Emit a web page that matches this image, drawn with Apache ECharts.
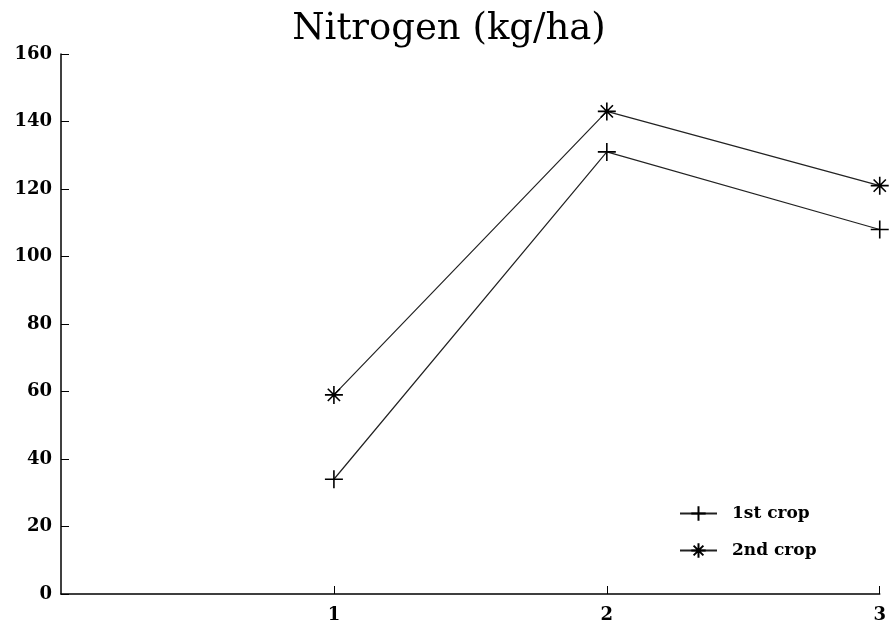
<!DOCTYPE html>
<html>
<head>
<meta charset="utf-8">
<script src="https://cdn.jsdelivr.net/npm/echarts@6/dist/echarts.min.js"></script>
<style>
  html, body { margin: 0; padding: 0; background: #fff; }
  #chart { width: 889px; height: 625px; }
</style>
</head>
<body>
<div id="chart"></div>
<script>
// data
const xValues = [1, 2, 3]
const firstCrop = [34, 131, 108]
const secondCrop = [59, 143, 121]
const seriesNames = ['1st crop', '2nd crop']

const plusPath = 'path://M5,0 L5,10 M0,5 L10,5'
const starPath = 'path://M5,0 L5,10 M0,5 L10,5 M1.6,1.6 L8.4,8.4 M8.4,1.6 L1.6,8.4'

const toPairs = (ys) => ys.map((y, i) => [xValues[i], y])
const labelFont = { fontFamily: 'DejaVu Serif', fontWeight: 'bold', fontSize: 18, color: '#000' }

const chart = echarts.init(document.getElementById('chart'))
chart.setOption({
  animation: false,
  title: {
    text: 'Nitrogen (kg/ha)',
    left: 444,
    textAlign: 'center',
    top: 6,
    textStyle: { fontFamily: 'DejaVu Serif', fontWeight: 'normal', fontSize: 37, color: '#000' }
  },
  grid: { left: 61, right: 8, top: 54, bottom: 31 },
  legend: {
    orient: 'vertical',
    left: 674,
    top: 500,
    itemWidth: 37,
    itemHeight: 18,
    itemGap: 20,
    data: seriesNames,
    textStyle: { fontFamily: 'DejaVu Serif', fontWeight: 'bold', fontSize: 17, color: '#000', padding: [0, 0, 0, 10] }
  },
  xAxis: {
    type: 'value',
    min: 0,
    max: 3,
    interval: 1,
    splitLine: { show: false },
    axisLine: { lineStyle: { color: '#000', width: 1.5 } },
    axisTick: { inside: true, length: 8, lineStyle: { color: '#000' } },
    axisLabel: Object.assign({}, labelFont, {
      margin: 12,
      showMinLabel: false,
      formatter: (v) => (v === 0 ? '' : String(v))
    })
  },
  yAxis: {
    type: 'value',
    min: 0,
    max: 160,
    interval: 20,
    splitLine: { show: false },
    axisLine: { show: true, lineStyle: { color: '#000', width: 1.5 } },
    axisTick: { show: true, inside: true, length: 8, lineStyle: { color: '#000' } },
    axisLabel: Object.assign({}, labelFont, { margin: 9 })
  },
  series: [
    {
      name: seriesNames[0],
      type: 'line',
      data: toPairs(firstCrop),
      symbol: plusPath,
      symbolSize: 18,
      itemStyle: { color: '#000', borderColor: '#000', borderWidth: 1.6 },
      lineStyle: { color: '#222', width: 1.2 }
    },
    {
      name: seriesNames[1],
      type: 'line',
      data: toPairs(secondCrop),
      symbol: starPath,
      symbolSize: 18,
      itemStyle: { color: '#000', borderColor: '#000', borderWidth: 1.6 },
      lineStyle: { color: '#222', width: 1.2 }
    }
  ]
})
</script>
</body>
</html>
